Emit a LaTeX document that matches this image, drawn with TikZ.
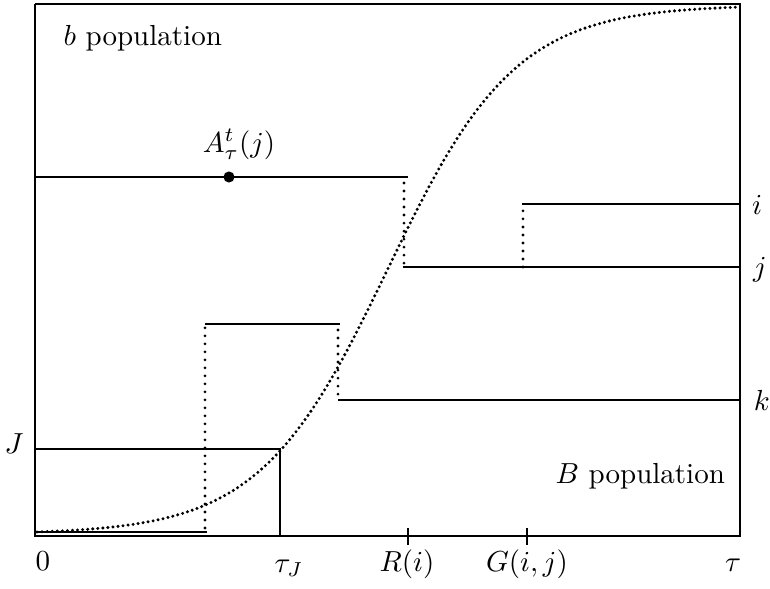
\documentclass[tikz,border=0pt]{standalone}
\usepackage{amsmath}
\usepackage{tikz}

\begin{document}
\begin{tikzpicture}[x=0.3448pt, y=0.3448pt,
    jump/.style={line width=1.05pt, dash pattern=on 0pt off 2.76pt, line cap=round},
    curvedots/.style={line width=1.15pt, dash pattern=on 0pt off 1.75pt, line cap=round}]
    \def\Tend{705}
    \def\Htop{532}
    \useasboundingbox (-35,-52) rectangle (735,536);

    % --- Frame (time axis and population axis) ---
    \draw (0,\Htop) -- (0,0) -- (\Tend,0) -- (\Tend,\Htop) -- (0,\Htop);

    % --- Ticks on the time axis ---
    \foreach \x in {373,492}
        \draw (\x,8) -- (\x,-9);

    % --- Logistic growth curve, dotted ---
    \draw[curvedots] plot[domain=2:\Tend, samples=220, variable=\t]
        ({\t}, {4+525*(1/(1+exp(-11*(\t/705-0.5)))-0.00407)/0.99186});

    % --- Level J reached at time tau_J ---
    \coordinate (J0) at (0,87);
    \coordinate (JC) at (245,87);
    \coordinate (JB) at (245,0);
    \draw (J0) -- (JC) -- (JB);

    % --- Lower trajectory: 0, jump up, jump down to k ---
    \coordinate (L0) at (2,4);
    \coordinate (L1) at (172,4);
    \coordinate (U0) at (170,212);
    \coordinate (U1) at (305,212);
    \coordinate (K0) at (303,136);
    \coordinate (K1) at (\Tend,136);
    \draw (L0) -- (L1);
    \draw[jump] (170,8) -- (U0);
    \draw (U0) -- (U1);
    \draw[jump] (303,206) -- (K0);
    \draw (K0) -- (K1);

    % --- Upper trajectory: A line, down to j, up to i ---
    \coordinate (A0) at (0,359);
    \coordinate (A1) at (373,359);
    \coordinate (Jj0) at (368,269);
    \coordinate (Jj1) at (\Tend,269);
    \coordinate (I0) at (487,332);
    \coordinate (I1) at (\Tend,332);
    \draw (A0) -- (A1);
    \draw[jump] (369,353) -- (369,269);
    \draw (Jj0) -- (Jj1);
    \draw[jump] (488,269) -- (488,328);
    \draw (I0) -- (I1);

    % --- Marked point on the A line ---
    \filldraw (194,359) circle (1.7pt);
    \node[anchor=base] (Alab) at (204,384) {$A^t_\tau(j)$};

    % --- Region labels ---
    \node[anchor=base west, inner sep=0pt] (bpop) at (28,491) {$b$ population};
    \node[anchor=base west, inner sep=0pt] (Bpop) at (520,53) {$B$ population};

    % --- Axis labels ---
    \node[anchor=base] (lzero) at (8,-34) {$0$};
    \node[anchor=base] (ltauJ) at (254,-36) {$\tau_J$};
    \node[anchor=base] (lR) at (372,-35) {$R(i)$};
    \node[anchor=base] (lG) at (492,-35) {$G(i,j)$};
    \node[anchor=base] (ltau) at (698,-35) {$\tau$};
    \node[anchor=base] (lJ) at (-21,83) {$J$};
    \node[anchor=base] (li) at (722,322) {$i$};
    \node[anchor=base] (lj) at (725,260) {$j$};
    \node[anchor=base] (lk) at (727,126) {$k$};
\end{tikzpicture}
\end{document}
